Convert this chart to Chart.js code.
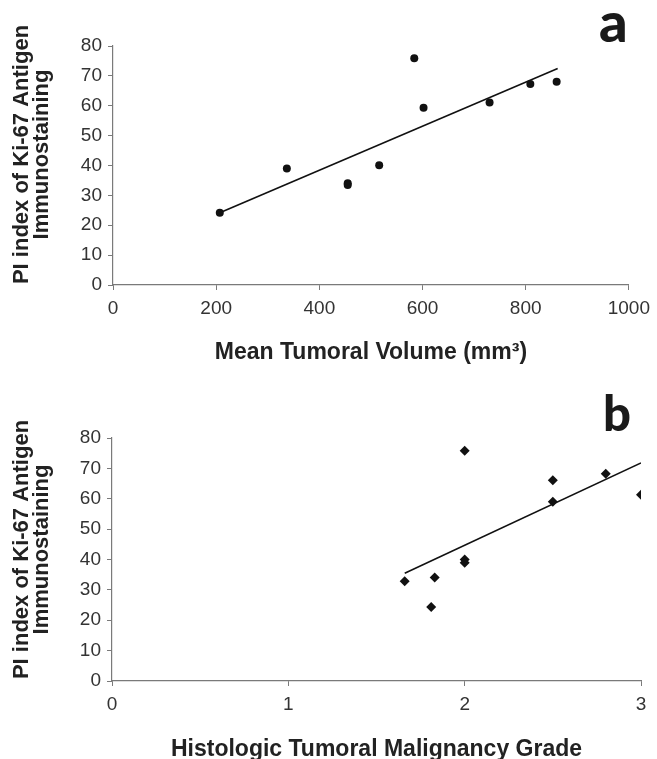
<!DOCTYPE html>
<html>
<head>
<meta charset="utf-8">
<script src="https://cdn.jsdelivr.net/npm/chart.js@4/dist/chart.umd.min.js"></script>
<style>
  html, body { margin: 0; padding: 0; background: #fff; width: 657px; height: 759px; overflow: hidden; }
  .panel { position: absolute; left: 0; width: 657px; }
  .tag { position: absolute; font-family: Lato, "Open Sans", sans-serif; font-weight: 900; color: #1a1a1a; line-height: 1; }
</style>
</head>
<body>
<div class="panel" style="top:0;height:380px"><canvas id="chartA"></canvas></div>
<div class="panel" style="top:380px;height:389px"><canvas id="chartB"></canvas></div>
<div class="tag" style="left:599px;top:-7px;font-size:56px">a</div>
<div class="tag" style="left:603px;top:388px;font-size:49px">b</div>
<script>
// Panel a: tumoral volume vs PI index
const volumeX = [207, 337, 455, 455, 516, 584, 602, 730, 809, 860];
const piA = [24.2, 39.0, 34.1, 33.5, 40.1, 75.9, 59.3, 61.1, 67.3, 68.0];
const trendAX = [207, 862];
const trendAY = [24.2, 72.5];

// Panel b: malignancy grade vs PI index
const gradeX = [1.66, 1.81, 1.83, 2.0, 2.0, 2.0, 2.5, 2.5, 2.8, 3.0];
const piB = [32.8, 24.4, 34.1, 75.8, 40.0, 38.9, 66.1, 59.0, 68.2, 61.3];
const trendBX = [1.66, 3.0];
const trendBY = [35.5, 71.8];

const yTitle = ["PI index of Ki-67 Antigen", "Immunostaining"];
const tickFont = { family: "'Liberation Sans', Arial, sans-serif", size: 19 };
const axisGray = "#7a7a7a";

// titulo vertical de dos lineas, un poco desplazado hacia arriba como en la figura
const yTitlePlugin = {
    id: "yTitle",
    afterDraw(chart, args, opts) {
        const { ctx, chartArea } = chart;
        ctx.save();
        ctx.translate(opts.x, (chartArea.top + chartArea.bottom) / 2 + opts.shift);
        ctx.rotate(-Math.PI / 2);
        ctx.font = "bold 22px 'Liberation Sans', Arial, sans-serif";
        ctx.fillStyle = "#222";
        ctx.textAlign = "center";
        ctx.textBaseline = "middle";
        yTitle.forEach((line, i) => ctx.fillText(line, 0, i * opts.gap));
        ctx.restore();
    }
};

function pts(xs, ys) {
    return xs.map((x, i) => ({ x: x, y: ys[i] }));
}

function makeChart(id, cfg) {
    const ctx = document.getElementById(id).getContext("2d");
    return new Chart(ctx, {
        type: "scatter",
        data: {
            datasets: [
                {
                    data: pts(cfg.xs, cfg.ys),
                    backgroundColor: "#111",
                    borderColor: "#111",
                    pointStyle: cfg.pointStyle,
                    pointRadius: cfg.radius,
                    borderWidth: 0
                },
                {
                    type: "line",
                    data: pts(cfg.tx, cfg.ty),
                    borderColor: "#111",
                    borderWidth: 1.6,
                    pointRadius: 0,
                    fill: false
                }
            ]
        },
        plugins: [yTitlePlugin],
        options: {
            responsive: true,
            maintainAspectRatio: false,
            animation: false,
            layout: { padding: cfg.padding },
            plugins: {
                legend: { display: false },
                tooltip: { enabled: false },
                yTitle: { x: 22, gap: 20, shift: cfg.titleShift }
            },
            scales: {
                x: {
                    type: "linear",
                    min: cfg.xMin, max: cfg.xMax,
                    ticks: { stepSize: cfg.xStep, color: "#333", font: tickFont, padding: 7, callback: v => String(v) },
                    grid: { drawOnChartArea: false, drawTicks: true, tickLength: 5, color: axisGray },
                    border: { display: true, color: axisGray, width: 1.2 },
                    title: {
                        display: true,
                        text: cfg.xTitle,
                        color: "#222",
                        font: { family: "'Liberation Sans', Arial, sans-serif", size: 23, weight: "bold", lineHeight: 1.0 },
                        padding: { top: 0, bottom: cfg.xTitlePad }
                    },
                    afterFit: s => { s.height = cfg.xHeight; }
                },
                y: {
                    min: 0, max: 80,
                    ticks: { stepSize: 10, color: "#333", font: tickFont, padding: 6 },
                    grid: { drawOnChartArea: false, drawTicks: true, tickLength: 5, color: axisGray },
                    border: { display: true, color: axisGray, width: 1.2 },
                    afterFit: s => { s.width = cfg.yWidth; }
                }
            }
        }
    });
}

makeChart("chartA", {
    xs: volumeX, ys: piA, tx: trendAX, ty: trendAY,
    pointStyle: "circle", radius: 4,
    xMin: 0, xMax: 1000, xStep: 200,
    xTitle: "Mean Tumoral Volume (mm³)",
    padding: { left: 0, top: 46, right: 28, bottom: 0 },
    xHeight: 95, xTitlePad: 16, yWidth: 113, titleShift: -11
});

makeChart("chartB", {
    xs: gradeX, ys: piB, tx: trendBX, ty: trendBY,
    pointStyle: "rectRot", radius: 5,
    xMin: 0, xMax: 3, xStep: 1,
    xTitle: "Histologic Tumoral Malignancy Grade",
    padding: { left: 0, top: 58, right: 16, bottom: 0 },
    xHeight: 88, xTitlePad: 8, yWidth: 112, titleShift: -10
});
</script>
</body>
</html>
